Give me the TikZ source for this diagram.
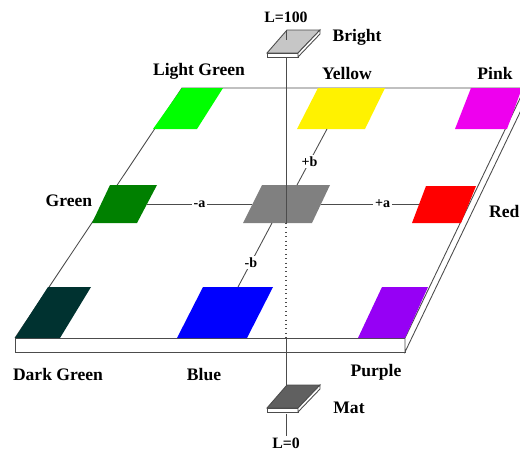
\documentclass[tikz,border=0pt]{standalone}
\usepackage{fontspec}
\setmainfont{Liberation Serif}
\definecolor{lgreen}{RGB}{0,255,0}
\definecolor{dgreen}{RGB}{0,128,0}
\definecolor{dkgreen}{RGB}{0,50,48}
\definecolor{pink}{RGB}{238,0,238}
\definecolor{purple}{RGB}{150,0,245}
\definecolor{mid}{RGB}{128,128,128}
\tikzset{
  edge/.style={draw=black!70, line width=0.5pt},
  tag/.style={font=\bfseries\fontsize{10}{12}\selectfont, inner sep=1pt},
  axtag/.style={font=\bfseries\fontsize{8}{10}\selectfont, fill=white, inner sep=1pt},
  ltag/.style={font=\bfseries\fontsize{9}{11}\selectfont, inner sep=1pt},
}
\begin{document}
\begin{tikzpicture}[x=0.02cm,y=-0.02cm]
\useasboundingbox (0,0) rectangle (520,450);
\pgfmathsetmacro\ax{286};
\pgfmathsetmacro\th{14};
% plate
\draw[edge, fill=white] (15,338) rectangle (405,338+\th);
\draw[edge, fill=white] (405,338) -- (525,88) -- (525,88+\th) -- (405,338+\th) -- cycle;
\draw[edge] (15,338) -- (182,88) -- (525,88);
% colour patches
\foreach \col/\ta/\tb/\ty/\ba/\bb/\by in {lgreen/182/223/88/153/197/129, yellow/318/385/88/297/365/129, pink/471/522/88/455/507/129, dgreen/110/157/185/92/137/223, mid/262/330/185/243/312/223, red/426/476/186/412/461/223, dkgreen/48/91/287/15/60/338, blue/203/273/287/177/247/338, purple/382/428/287/358/405/338}
  \fill[\col] (\ta,\ty) -- (\tb,\ty) -- (\bb,\by) -- (\ba,\by) -- cycle;
% a and b axes
\coordinate (green-e) at (147,204);
\coordinate (mid-w) at (252,204);
\coordinate (mid-e) at (321,204);
\coordinate (red-w) at (419,204);
\coordinate (mid-n) at (297,185);
\coordinate (yellow-s) at (327,129);
\coordinate (mid-s) at (272,223);
\coordinate (blue-n) at (238,287);
\draw[edge] (green-e) -- node[axtag] (na) {-a} (mid-w);
\draw[edge] (mid-e) -- node[axtag, pos=0.63] (pa) {+a} (red-w);
\draw[edge] (mid-n) -- node[axtag, pos=0.42] (pb) {+b} (yellow-s);
\draw[edge] (mid-s) -- node[axtag, pos=0.62] (nb) {-b} (blue-n);
% lightness blocks
\foreach \yy/\shade in {30/gray!45, 385/gray!75!black} {
  \draw[edge, fill=\shade] (287,\yy) -- (320,\yy) -- (298,\yy+23) -- (267,\yy+23) -- cycle;
  \draw[edge, fill=white] (267,\yy+23) rectangle (298,\yy+27);
  \draw[edge, fill=white] (298,\yy+23) -- (320,\yy) -- (320,\yy+4) -- (298,\yy+27) -- cycle;
}
\node[ltag] (top) at (\ax,17) {L=100};
\node[ltag] (bot) at (\ax,443) {L=0};
\coordinate (bright-s) at (\ax,57);
\coordinate (mid-c) at (\ax,223);
\coordinate (plate-n) at (\ax,338);
\coordinate (mat-n) at (\ax,385);
\coordinate (mat-s) at (\ax,414);
\draw[edge] (\ax,31) -- (\ax,40);
\draw[edge] (bright-s) -- (mid-c);
\draw[edge, dotted, line width=0.8pt] (mid-c) -- (plate-n);
\draw[edge] (plate-n) -- (mat-n);
\draw[edge] (mat-s) -- (bot);
% labels
\node[tag] (bright) at (357,37) {Bright};
\node[tag] (mat) at (349,408) {Mat};
\node[tag] (lg) at (199,71) {Light Green};
\node[tag] (ye) at (347,73) {Yellow};
\node[tag] (pk) at (495,73) {Pink};
\node[tag] (gn) at (69,201) {Green};
\node[tag, anchor=west] (rd) at (487,211) {Red};
\node[tag] (dg) at (58,374) {Dark Green};
\node[tag] (bl) at (204,375) {Blue};
\node[tag] (pu) at (376,372) {Purple};
\end{tikzpicture}
\end{document}
